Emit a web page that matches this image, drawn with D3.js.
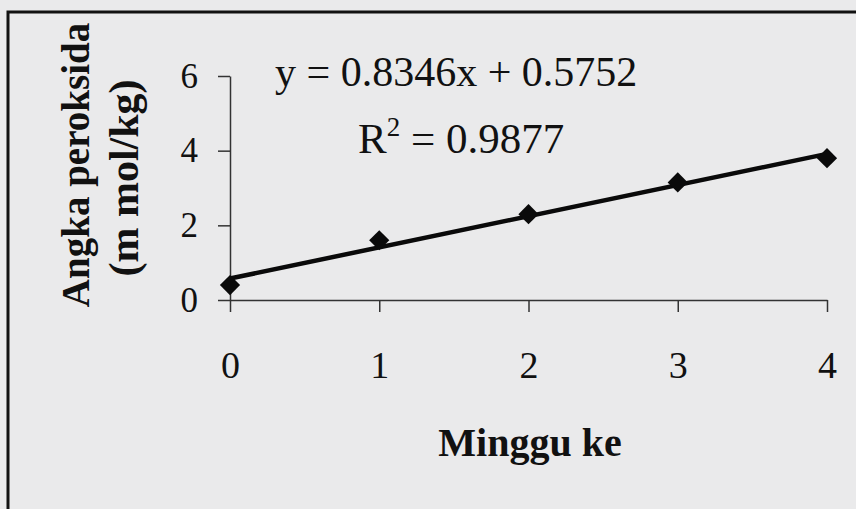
<!doctype html>
<html>
<head>
<script src="https://d3js.org/d3.v7.min.js"></script>
<style>
  body { margin: 0; background: #eaeaeb; }
  text { font-family: 'Liberation Serif', 'Times New Roman', serif; fill: #111; }
  .tick line, .domain { stroke: #333; }
</style>
</head>
<body>
<svg id="chart" width="856" height="509"></svg>
<script>
const weeks = [0, 1, 2, 3, 4];
const peroxide = [0.40, 1.60, 2.30, 3.15, 3.80];
const yTicks = [0, 2, 4, 6];
const slope = 0.8346, intercept = 0.5752;
const equationText = "y = 0.8346x + 0.5752";
const r2Value = "0.9877";

const svg = d3.select("#chart");
svg.append("rect").attr("width", 856).attr("height", 509).attr("fill", "#eaeaeb");

// frame (only top and left visible in the crop)
svg.append("path")
  .attr("d", "M8,509 L8,12 L856,12")
  .attr("fill", "none").attr("stroke", "#111").attr("stroke-width", 3);

const x = d3.scaleLinear().domain([0, 4]).range([230, 827]);
const y = d3.scaleLinear().domain([0, 6]).range([300, 76]);

const xAxis = svg.append("g").attr("transform", "translate(0,300)")
  .call(d3.axisBottom(x).tickValues(weeks).tickFormat(d3.format("d"))
    .tickSizeInner(12).tickSizeOuter(0).tickPadding(39));
xAxis.selectAll("text").attr("font-size", 38).attr("fill", "#111").attr("font-family", "Liberation Serif");
xAxis.selectAll("line, path").attr("stroke-width", 1.5);

const yAxis = svg.append("g").attr("transform", "translate(230,0)")
  .call(d3.axisLeft(y).tickValues(yTicks).tickFormat(d3.format("d"))
    .tickSizeInner(12).tickSizeOuter(0).tickPadding(20));
yAxis.selectAll("text").attr("font-size", 35).attr("fill", "#111").attr("font-family", "Liberation Serif");
yAxis.selectAll("line, path").attr("stroke-width", 1.5);

// trend line
svg.append("line")
  .attr("x1", x(0)).attr("y1", y(intercept))
  .attr("x2", x(4)).attr("y2", y(slope * 4 + intercept))
  .attr("stroke", "#0a0a0a").attr("stroke-width", 4.5);

// markers
svg.append("g").selectAll("path").data(weeks).join("path")
  .attr("d", d3.symbol(d3.symbolDiamond2, 260))
  .attr("transform", (d, i) => `translate(${x(d)},${y(peroxide[i])})`)
  .attr("fill", "#0a0a0a");

// equation
svg.append("text").attr("x", 275).attr("y", 86)
  .attr("font-size", 42).text(equationText);
const r2 = svg.append("text").attr("x", 358).attr("y", 153).attr("font-size", 43);
r2.append("tspan").text("R");
r2.append("tspan").attr("dy", -17).attr("font-size", 27).text("2");
r2.append("tspan").attr("dy", 17).text(" = " + r2Value);

// axis titles
svg.append("text").attr("x", 530).attr("y", 456)
  .attr("text-anchor", "middle").attr("font-size", 40).attr("font-weight", "bold")
  .text("Minggu ke");

const yt = svg.append("g").attr("transform", "translate(89,165) rotate(-90)");
yt.append("text").attr("text-anchor", "middle").attr("font-size", 39).attr("font-weight", "bold")
  .text("Angka peroksida");
yt.append("text").attr("x", -13).attr("y", 49).attr("text-anchor", "middle").attr("font-size", 42).attr("font-weight", "bold")
  .text("(m mol/kg)");
</script>
</body>
</html>
